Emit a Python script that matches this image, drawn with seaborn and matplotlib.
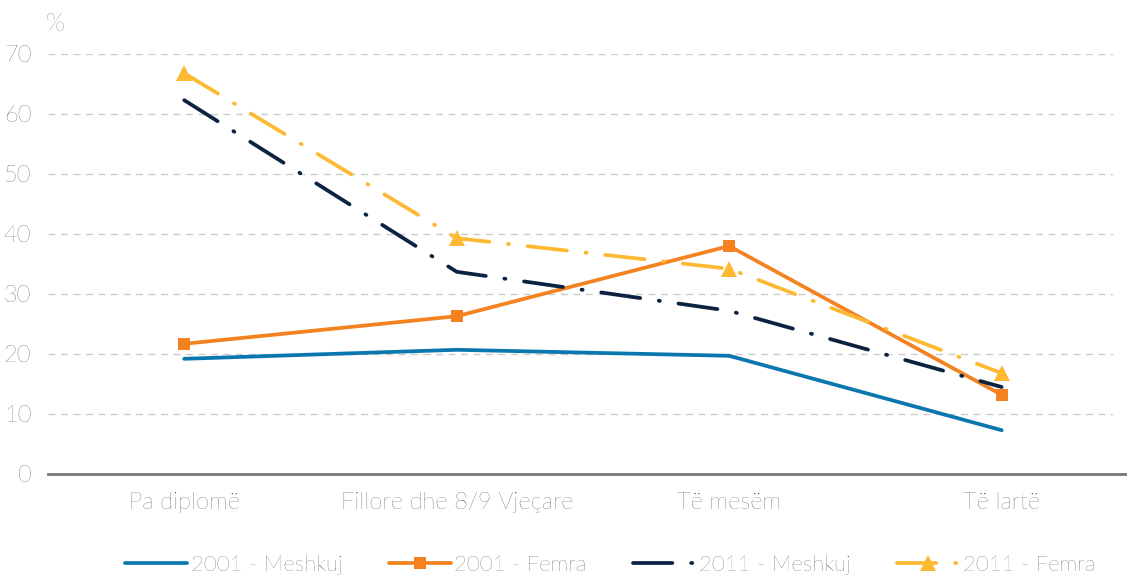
import numpy as np
import pandas as pd
import seaborn as sns
import matplotlib.pyplot as plt

categories = ["Pa diplomë", "Fillore dhe 8/9 Vjeçare", "Të mesëm", "Të lartë"]
meshkuj_2001 = [19.2, 20.7, 19.7, 7.3]
femra_2001 = [21.7, 26.3, 38.0, 13.2]
meshkuj_2011 = [62.3, 33.7, 27.2, 14.5]
femra_2011 = [66.8, 39.3, 34.2, 16.8]
series_names = ["2001 - Meshkuj", "2001 - Femra", "2011 - Meshkuj", "2011 - Femra"]

sns.set_style("white")
plt.rcParams['font.family'] = ['Lato', 'DejaVu Sans']
plt.rcParams['font.weight'] = 'light'

fig = plt.figure(figsize=(11.27, 5.78), dpi=100)
ax = fig.add_axes([48 / 1127, 104 / 578, 1079 / 1127, 420 / 578])

x = np.arange(len(categories))
dashdot = (0, (10.5, 5.0, 0.3, 5.0))

styles = [
    dict(color="#0a78ae", linestyle="-", marker=None),
    dict(color="#f58220", linestyle="-", marker="s", markersize=9),
    dict(color="#0b2341", linestyle=dashdot, marker=None),
    dict(color="#fdb933", linestyle=dashdot, marker="^", markersize=11),
]
values = [meshkuj_2001, femra_2001, meshkuj_2011, femra_2011]

for name, vals, st in zip(series_names, values, styles):
    df = pd.DataFrame({"x": x, "y": vals})
    sns.lineplot(data=df, x="x", y="y", ax=ax, label=name, linewidth=2.7,
                 solid_capstyle="round", dash_capstyle="round",
                 markeredgewidth=0, **st)

ax.set_xlim(-0.5, 3.46)
ax.set_ylim(0, 70)
ax.set_xlabel("")
ax.set_ylabel("")

# dashed horizontal guides, stopping a bit short of the right edge
for yv in range(10, 80, 10):
    ax.axhline(yv, xmin=0, xmax=0.987, color="#cccccc", lw=1,
               linestyle=(0, (5, 4)), zorder=0)

ax.set_yticks(range(0, 80, 10))
ax.tick_params(axis="y", length=0, pad=12, labelsize=17, labelcolor="#2b2b2b")

ax.set_xticks([-0.5, 0.5, 1.5, 2.5])
ax.set_xticklabels([])
ax.set_xticks(x, minor=True)
ax.set_xticklabels(categories, minor=True)
ax.tick_params(axis="x", which="major", length=5, width=1, color="#777777", direction="out")
ax.tick_params(axis="x", which="minor", length=0, pad=13, labelsize=17, labelcolor="#2b2b2b")

for s in ["top", "right", "left"]:
    ax.spines[s].set_visible(False)
ax.spines["bottom"].set_color("#777777")
ax.spines["bottom"].set_linewidth(2)

fig.text(46 / 1127, 1 - 24 / 578, "%", fontsize=18, color="#555555", va="center")

ax.legend(loc="center", bbox_to_anchor=(610 / 1127, 1 - 565 / 578),
          bbox_transform=fig.transFigure, ncol=4, frameon=False, fontsize=16,
          handlelength=2.8, handletextpad=0.15, columnspacing=2.1,
          labelcolor="#2b2b2b")

fig.savefig("out.png", dpi=100)
